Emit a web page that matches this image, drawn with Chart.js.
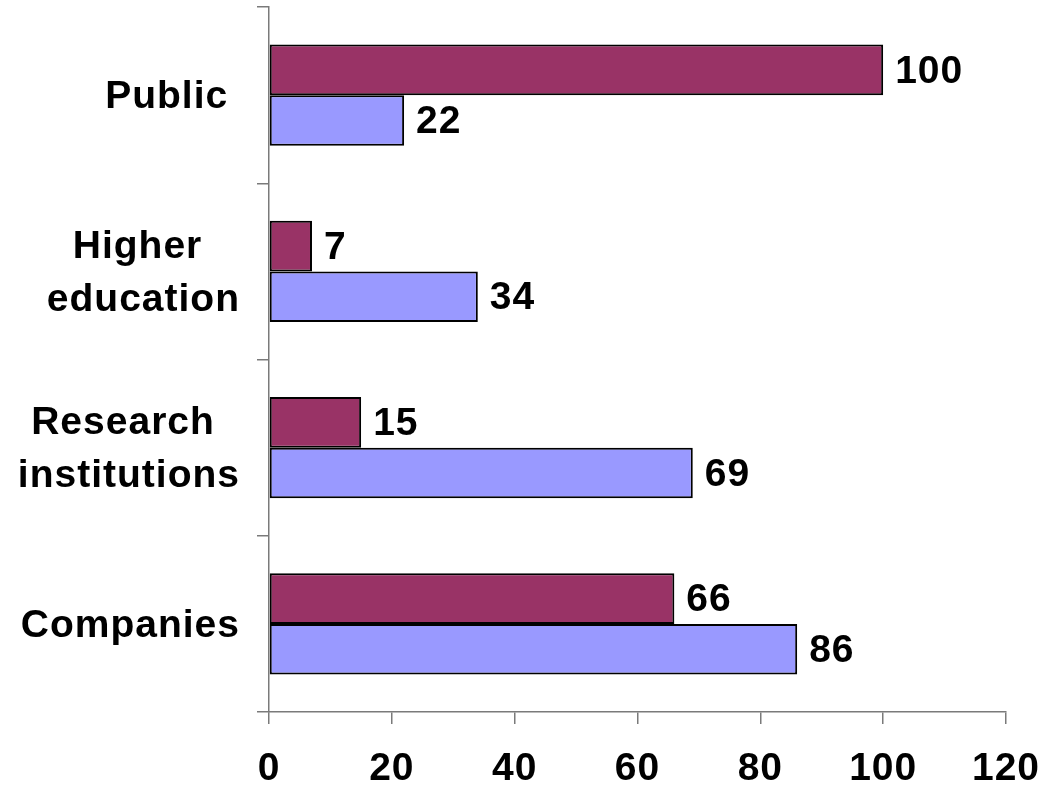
<!DOCTYPE html>
<html lang="en">
<head>
    <meta charset="UTF-8">
    <title>Bar chart</title>
    <script src="https://cdn.jsdelivr.net/npm/chart.js@4.4.1/dist/chart.umd.min.js"></script>
    <style>
        body { margin: 0; background: #fff; }
        canvas { display: block; }
    </style>
</head>
<body>
    <canvas id="chart" width="1044" height="788"></canvas>

    <script>
    const categories = [['Public '], ['Higher ', 'education'], ['Research ', 'institutions'], ['Companies']];
    const seriesA = [100, 7, 15, 66];
    const seriesB = [22, 34, 69, 86];
    const xTicks = [0, 20, 40, 60, 80, 100, 120];

    const FONT = '"Liberation Sans", Arial, sans-serif';
    const BOLD = 'bold 39px ' + FONT;
    const AXIS = '#7a7a7a';

    // value labels right of each bar
    const valueLabels = {
        id: 'valueLabels',
        afterDatasetsDraw(chart) {
            const ctx = chart.ctx;
            ctx.save();
            ctx.font = BOLD;
            ctx.fillStyle = '#000';
            ctx.textAlign = 'left';
            ctx.textBaseline = 'middle';
            chart.data.datasets.forEach((ds, i) => {
                chart.getDatasetMeta(i).data.forEach((bar, j) => {
                    ctx.fillText(ds.data[j], bar.x + 12, bar.y + 2);
                });
            });
            ctx.restore();
        }
    };

    // category names: block right aligned, lines centred inside the block
    const categoryLabels = {
        id: 'categoryLabels',
        afterDraw(chart) {
            const ctx = chart.ctx;
            const y = chart.scales.y;
            ctx.save();
            ctx.font = BOLD;
            ctx.fillStyle = '#000';
            ctx.textAlign = 'center';
            ctx.textBaseline = 'middle';
            const lh = 53;
            chart.data.labels.forEach((lines, i) => {
                const w = Math.max(...lines.map(s => ctx.measureText(s).width));
                const cx = 240 - w / 2;
                const cy = y.getPixelForTick(i);
                lines.forEach((s, k) => {
                    ctx.fillText(s, cx, cy + (k - (lines.length - 1) / 2) * lh + 2);
                });
            });
            ctx.restore();
        }
    };

    // the original text is a little wider than Liberation Sans
    const spacing = {
        id: 'spacing',
        beforeLayout(chart) { chart.ctx.letterSpacing = '1px'; },
        beforeDraw(chart) { chart.ctx.letterSpacing = '1px'; }
    };

    const ctx = document.getElementById('chart').getContext('2d');
    new Chart(ctx, {
        type: 'bar',
        data: {
            labels: categories,
            datasets: [{
                data: seriesA,
                backgroundColor: '#993366',
                borderColor: '#000',
                borderWidth: 2,
                borderSkipped: false
            }, {
                data: seriesB,
                backgroundColor: '#9999ff',
                borderColor: '#000',
                borderWidth: 2,
                borderSkipped: false
            }]
        },
        options: {
            indexAxis: 'y',
            responsive: false,
            animation: false,
            categoryPercentage: 0.575,
            barPercentage: 1.0,
            layout: { padding: { left: 0, right: 38, top: 7, bottom: 0 } },
            plugins: {
                legend: { display: false },
                tooltip: { enabled: false }
            },
            scales: {
                x: {
                    min: 0,
                    max: 120,
                    afterBuildTicks(axis) { axis.ticks = xTicks.map(v => ({ value: v })); },
                    afterFit(axis) {
                        axis.height = 76;
                        axis.paddingLeft = 0;
                        axis.paddingRight = 0;
                    },
                    grid: { drawOnChartArea: false, color: AXIS, lineWidth: 1.5, tickLength: 12 },
                    border: { color: AXIS, width: 1.5 },
                    ticks: {
                        color: '#000',
                        padding: 22,
                        maxRotation: 0,
                        font: { family: FONT, size: 39, weight: 'bold' }
                    }
                },
                y: {
                    afterFit(axis) {
                        axis.width = 269;
                        axis.paddingTop = 0;
                        axis.paddingBottom = 0;
                    },
                    grid: { drawOnChartArea: false, color: AXIS, lineWidth: 1.5, tickLength: 12, offset: true },
                    border: { color: AXIS, width: 1.5 },
                    ticks: { display: false }
                }
            }
        },
        plugins: [valueLabels, categoryLabels, spacing]
    });
    </script>
</body>
</html>
